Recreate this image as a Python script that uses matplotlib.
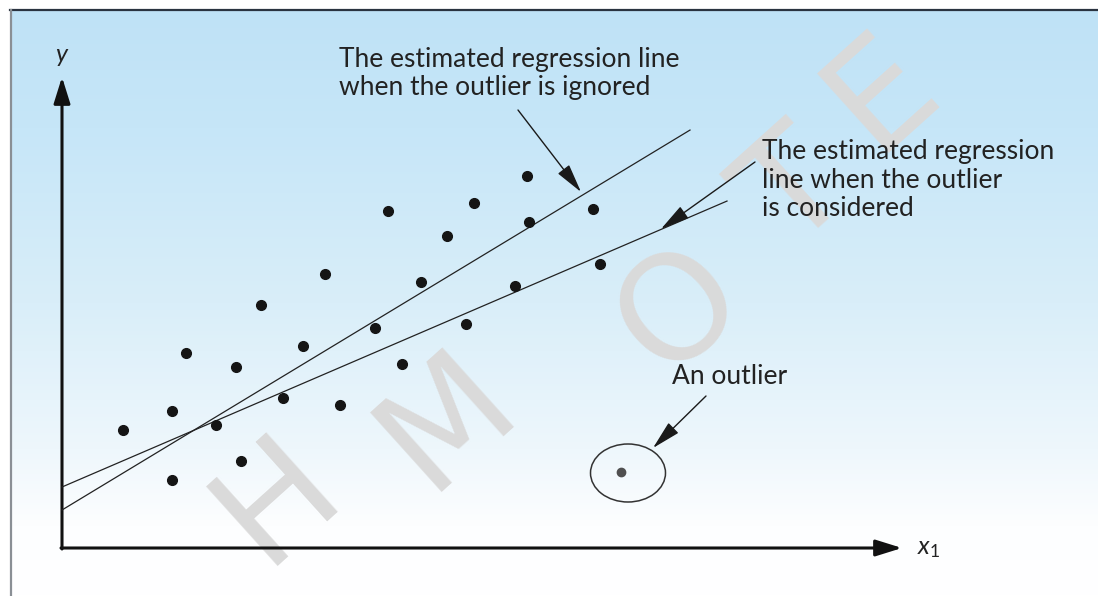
import numpy as np
import matplotlib.pyplot as plt
from matplotlib.patches import Ellipse
from matplotlib.colors import LinearSegmentedColormap

plt.rcParams['font.family'] = ['Lato', 'DejaVu Sans']
plt.rcParams['mathtext.fontset'] = 'custom'
plt.rcParams['mathtext.it'] = 'Lato:italic'
plt.rcParams['mathtext.rm'] = 'Lato'

# data (arbitrary units, origin at the axes corner)
x_pts = [6.1, 11.0, 11.0, 12.4, 15.4, 17.4, 17.9, 19.9, 22.1, 24.1, 26.3, 27.8,
         31.3, 32.6, 34.0, 35.9, 38.5, 40.4, 41.2, 45.3, 46.5, 46.7, 53.1, 53.8]
y_pts = [11.8, 13.7, 6.8, 19.5, 12.3, 18.1, 8.7, 24.3, 15.0, 20.2, 27.4, 14.3,
         22.0, 33.7, 18.4, 26.6, 31.2, 22.4, 34.5, 26.2, 37.2, 32.6, 33.9, 28.4]
outlier = (55.9, 7.6)

# regression lines: intercept, slope, end x
line_names = ['ignored', 'considered']
intercepts = [3.8, 6.1]
slopes = [0.605, 0.43]
x_ends = [62.8, 66.5]

# watermark letters
wm_letters = ['H', 'M', 'O', 'T', 'E']
wm_x = [21.5, 38.5, 61.8, 73.5, 82.0]
wm_y = [4.9, 12.8, 23.8, 35.5, 45.6]

fig = plt.figure(figsize=(10.98, 5.96), dpi=100)
ax = fig.add_axes([0, 0, 1, 1])
ax.set_xlim(-6.2, 103.6)
ax.set_ylim(-4.8, 54.8)
ax.axis('off')

# shaded panel background (blue fading to white)
cmap = LinearSegmentedColormap.from_list(
    'panel', [(0.0, '#ffffff'), (0.12, '#fdfeff'), (0.25, '#eef7fc'),
              (0.5, '#d9eef9'), (0.8, '#c6e6f8'), (1.0, '#bfe2f6')])
grad = np.linspace(0, 1, 256).reshape(-1, 1)
ax.imshow(grad, cmap=cmap, aspect='auto', origin='lower',
          extent=(-5.2, 103.6, -4.8, 53.8), zorder=0)
ax.plot([-5.2, 103.6], [53.8, 53.8], color='#2a3340', lw=1.6, zorder=1)
ax.plot([-5.1, -5.1], [-4.8, 53.8], color='#8a8f95', lw=1.6, zorder=1)

# watermark
for ch, wx, wy in zip(wm_letters, wm_x, wm_y):
    ax.text(wx, wy, ch, fontsize=105, color='#dadada', rotation=42,
            ha='center', va='center', rotation_mode='anchor',
            family='DejaVu Sans', zorder=1, clip_on=True)

# axes with arrows
head = '-|>,head_length=0.8,head_width=0.25'
ax.annotate('', xy=(0, 47.1), xytext=(0, -0.1),
            arrowprops=dict(arrowstyle=head, mutation_scale=20, lw=2.2,
                            color='#111111', shrinkA=0, shrinkB=0), zorder=3)
ax.annotate('', xy=(84.0, 0), xytext=(-0.1, 0),
            arrowprops=dict(arrowstyle=head, mutation_scale=20, lw=2.2,
                            color='#111111', shrinkA=0, shrinkB=0), zorder=3)
ax.text(0.0, 49.2, '$y$', fontsize=18, ha='center', va='center', color='#222222')
ax.text(85.5, 0.0, '$x_1$', fontsize=18, ha='left', va='center', color='#222222')

# regression lines
for b, m, xe in zip(intercepts, slopes, x_ends):
    xs = np.array([0, xe])
    ax.plot(xs, b + m * xs, color='#222222', lw=0.9, zorder=3)

# points
ax.plot(x_pts, y_pts, 'o', ms=7, color='#151515', zorder=4)
ax.plot(*outlier, 'o', ms=6, color='#505050', zorder=4)
ax.add_patch(Ellipse((56.6, 7.5), 7.5, 5.8, fill=False, ec='#333333', lw=1.1, zorder=4))

# annotations
arrow_kw = dict(arrowstyle='-|>,head_length=0.9,head_width=0.22', mutation_scale=20,
                lw=1.0, color='#1a1a1a', shrinkA=0, shrinkB=0)
ax.annotate('', xy=(51.9, 35.6), xytext=(45.6, 43.8), arrowprops=arrow_kw, zorder=5)
ax.annotate('', xy=(59.9, 31.9), xytext=(69.3, 38.6), arrowprops=arrow_kw, zorder=5)
ax.annotate('', xy=(59.1, 10.0), xytext=(64.4, 15.2), arrowprops=arrow_kw, zorder=5)

txt_kw = dict(fontsize=19, color='#222222', ha='left', va='center', linespacing=1.15, zorder=5)
ax.text(27.7, 47.5, 'The estimated regression line\nwhen the outlier is ignored', **txt_kw)
ax.text(70.0, 36.8, 'The estimated regression\nline when the outlier\nis considered', **txt_kw)
ax.text(61.0, 17.1, 'An outlier', **txt_kw)

plt.savefig('out.png', dpi=100)
